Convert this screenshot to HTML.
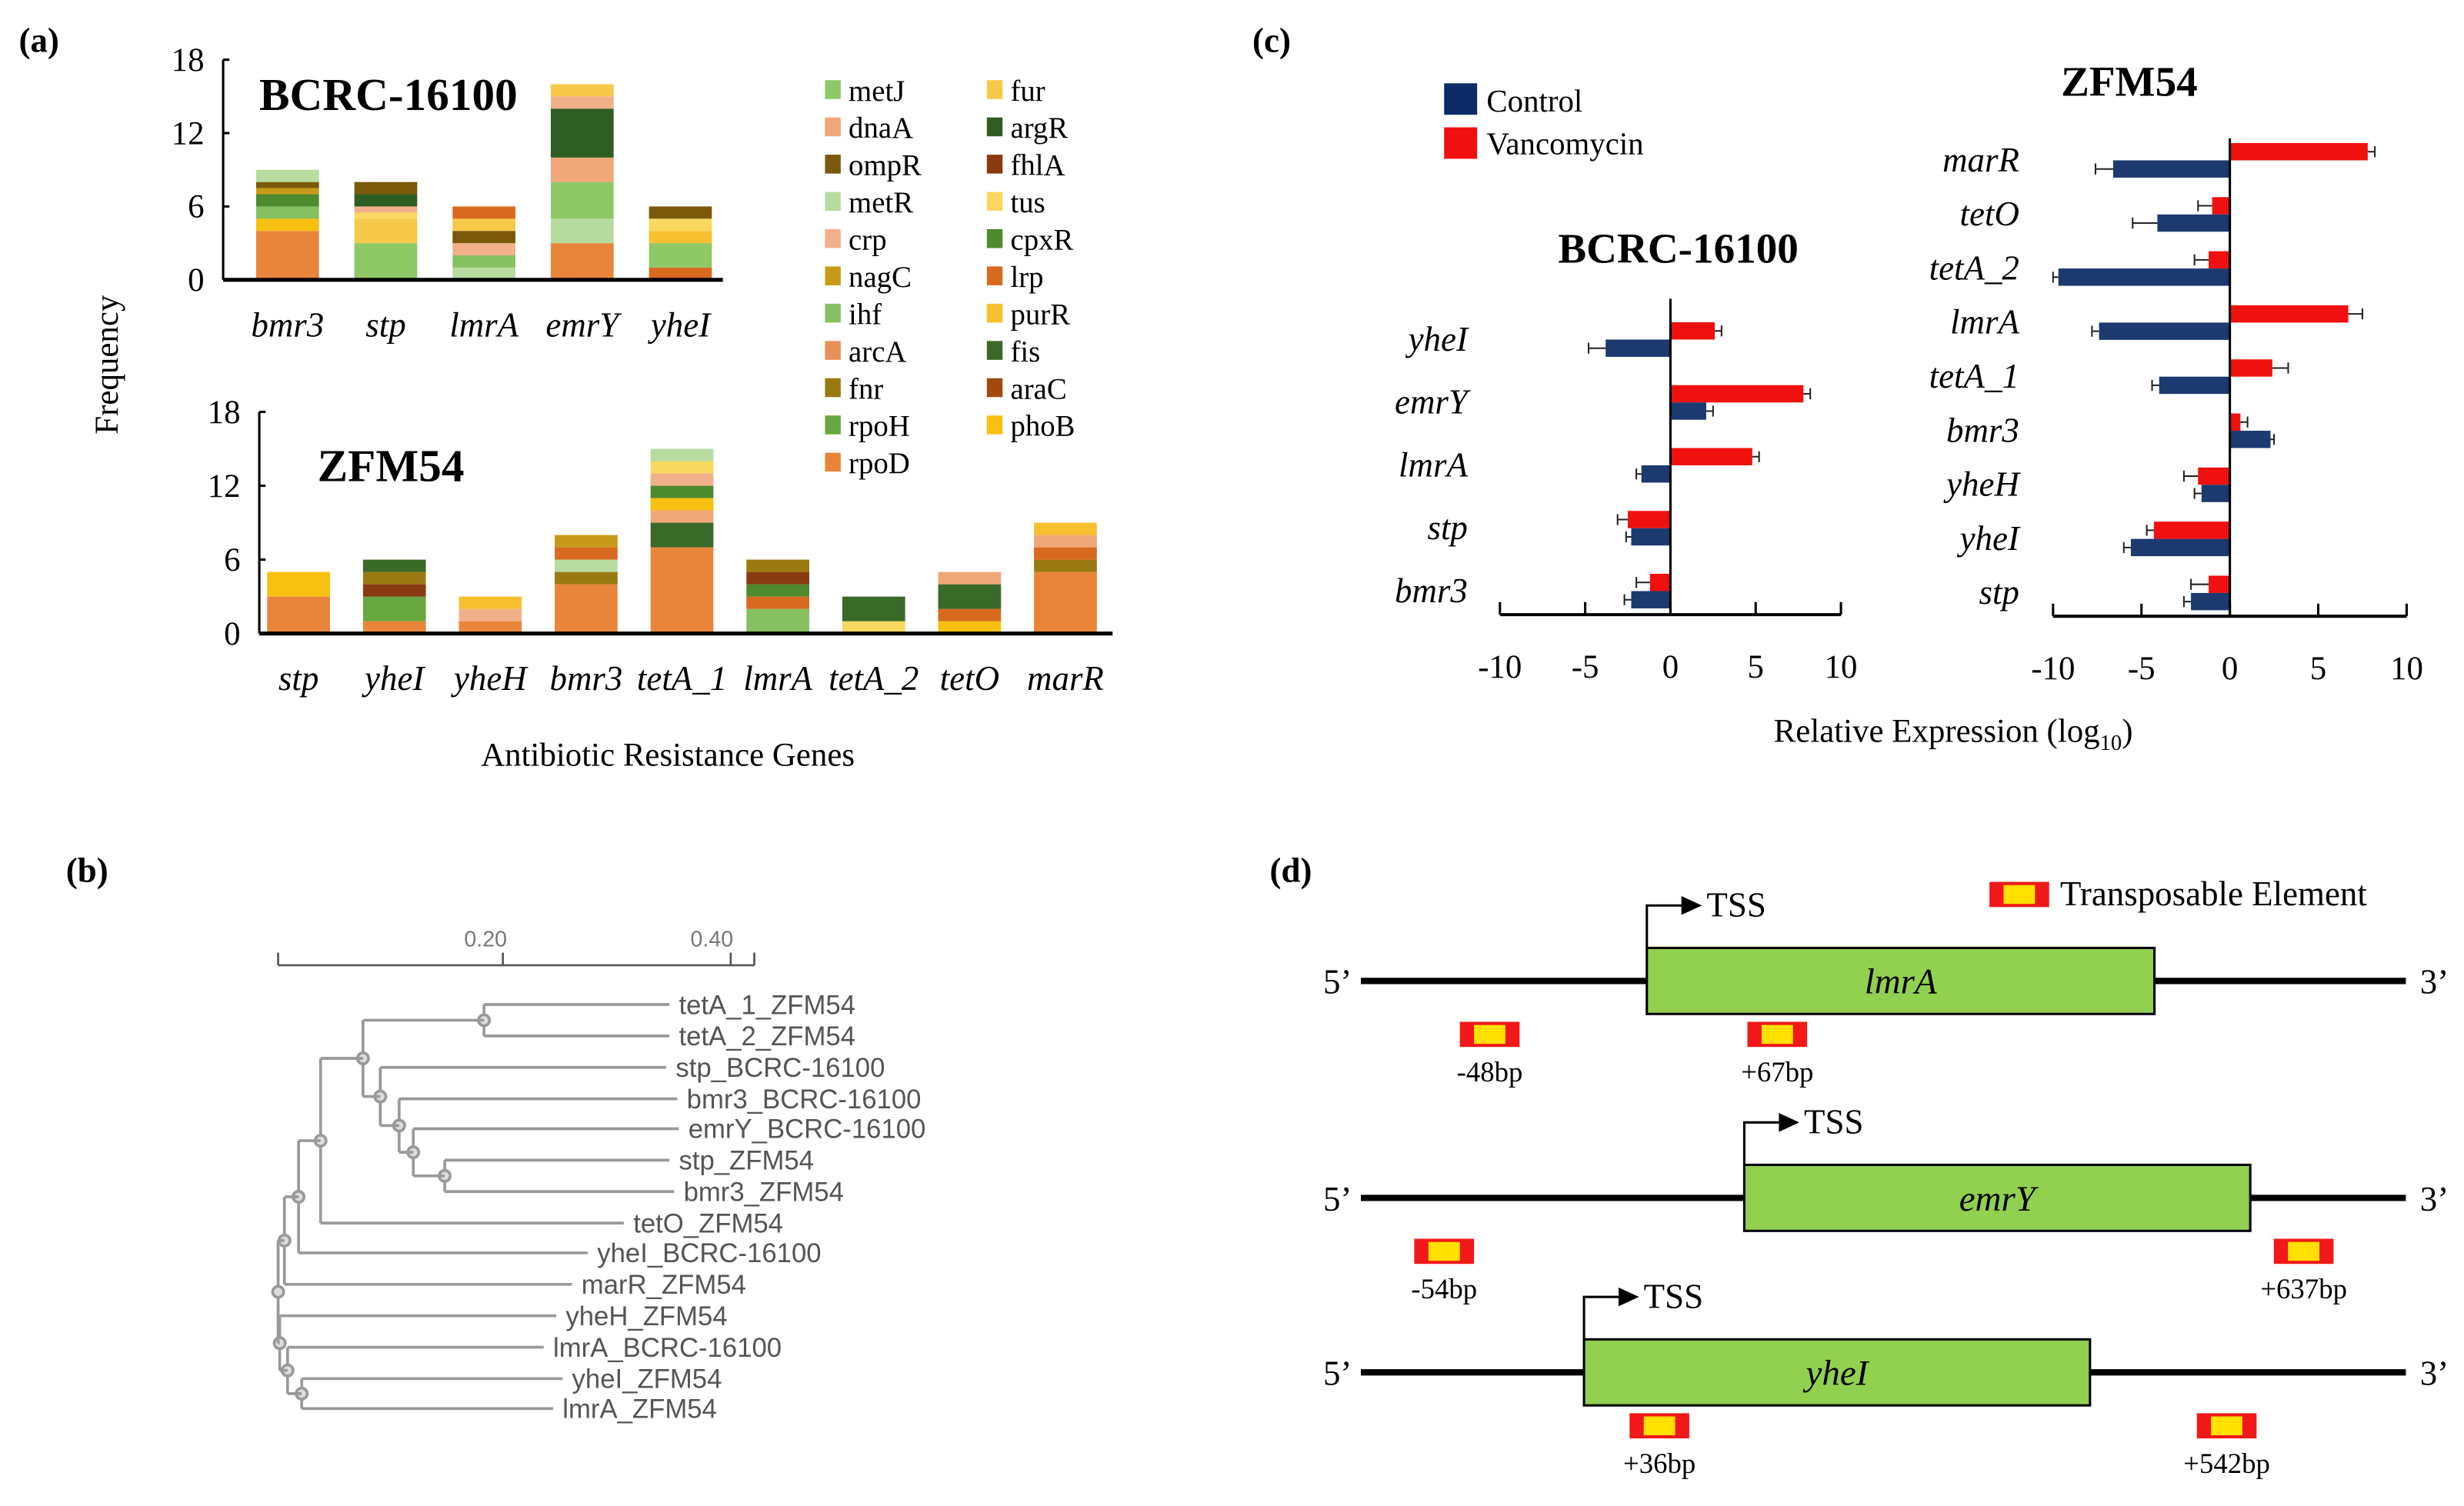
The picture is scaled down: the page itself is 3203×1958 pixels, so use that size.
<!DOCTYPE html>
<html><head><meta charset="utf-8"><style>
html,body{margin:0;padding:0;background:#fff}
svg{display:block}
text{font-family:"Liberation Serif",serif}
.sans{font-family:"Liberation Sans",sans-serif}
</style></head><body>
<svg id="fig" width="3203" height="1958" viewBox="0 0 1568 958" preserveAspectRatio="none" xmlns="http://www.w3.org/2000/svg">
<rect width="1568" height="958" fill="#fff"/>
<g id="pa"></g>
<g id="pb"></g>
<g id="pc"></g>
<g id="pd"></g>
</svg>
<script>
// ---------- Panel (a) data ----------
const regulators = ["metJ","dnaA","ompR","metR","crp","nagC","ihf","arcA","fnr","rpoH","rpoD","fur","argR","fhlA","tus","cpxR","lrp","purR","fis","araC","phoB"];
const regColors = {metJ:"#8fc866",dnaA:"#f0a878",ompR:"#7a5a0a",metR:"#b8dca0",crp:"#f2b08a",nagC:"#c89a1a",ihf:"#86c060",arcA:"#e8905a",fnr:"#9a7a10",rpoH:"#68a840",rpoD:"#e8853a",fur:"#f7c94a",argR:"#2e5e22",fhlA:"#8a3a10",tus:"#f9d860",cpxR:"#4e8a2e",lrp:"#d86a20",purR:"#f8c030",fis:"#3a6a28",araC:"#a04a10",phoB:"#f8c010"};
const bcrcGenes = ["bmr3","stp","lmrA","emrY","yheI"];
const bcrcStacks = [
 [["rpoD",4],["phoB",1],["ihf",1],["cpxR",1],["nagC",0.5],["ompR",0.5],["metR",1]],
 [["metJ",3],["fur",2],["tus",0.5],["crp",0.5],["argR",1],["ompR",1]],
 [["metR",1],["ihf",1],["crp",1],["ompR",1],["fur",1],["lrp",1]],
 [["rpoD",3],["metR",2],["metJ",3],["dnaA",2],["argR",4],["crp",1],["fur",1]],
 [["lrp",1],["metJ",2],["purR",1],["tus",1],["ompR",1]]
];
const zfmGenes = ["stp","yheI","yheH","bmr3","tetA_1","lmrA","tetA_2","tetO","marR"];
const zfmStacks = [
 [["rpoD",3],["phoB",2]],
 [["rpoD",1],["rpoH",2],["fhlA",1],["fnr",1],["fis",1]],
 [["rpoD",1],["crp",1],["purR",1]],
 [["rpoD",4],["fnr",1],["metR",1],["lrp",1],["nagC",1]],
 [["rpoD",7],["fis",2],["dnaA",1],["phoB",1],["cpxR",1],["crp",1],["tus",1],["metR",1]],
 [["ihf",2],["lrp",1],["cpxR",1],["fhlA",1],["fnr",1]],
 [["tus",1],["fis",2]],
 [["phoB",1],["lrp",1],["fis",2],["dnaA",1]],
 [["rpoD",5],["fnr",1],["lrp",1],["dnaA",1],["purR",1]]
];
const freqTicks = [0,6,12,18];

// ---------- Panel (c) data ----------
const cBcrcGenes = ["yheI","emrY","lmrA","stp","bmr3"];
const cBcrcVanco = [2.6,7.8,4.8,-2.5,-1.2];
const cBcrcControl = [-3.8,2.1,-1.7,-2.3,-2.3];
const cBcrcVancoErr = [0.4,0.4,0.4,0.6,0.8];
const cBcrcControlErr = [1.0,0.4,0.3,0.3,0.4];
const cZfmGenes = ["marR","tetO","tetA_2","lmrA","tetA_1","bmr3","yheH","yheI","stp"];
const cZfmVanco = [7.8,-1.0,-1.2,6.7,2.4,0.6,-1.8,-4.3,-1.2];
const cZfmControl = [-6.6,-4.1,-9.7,-7.4,-4.0,2.3,-1.6,-5.6,-2.2];
const cZfmVancoErr = [0.4,0.8,0.8,0.8,0.9,0.4,0.8,0.4,1.0];
const cZfmControlErr = [1.0,1.4,0.3,0.4,0.4,0.2,0.4,0.4,0.4];
const cTicks = [-10,-5,0,5,10];

const NS="http://www.w3.org/2000/svg";
function mk(parent,tag,attrs,txt){const e=document.createElementNS(NS,tag);for(const k in attrs)e.setAttribute(k,attrs[k]);if(txt!==undefined)e.textContent=txt;parent.appendChild(e);return e;}

// ===== Panel a =====
const pa=document.getElementById('pa');
let t;
t=mk(pa,'text',{x:12,y:33,'font-size':22,'font-weight':'bold'},'(a)');

t=mk(pa,'text',{x:0,y:0,'font-size':21,transform:'translate(75,232) rotate(-90)','text-anchor':'middle'},'Frequency');

t=mk(pa,'text',{x:425,y:487,'font-size':21,'text-anchor':'middle'},'Antibiotic Resistance Genes');


function stackChart(name,genes,stacks,ax){
  const g=mk(pa,'g',{});
  
  const yS=v=>ax.y0-(v/18)*(ax.y0-ax.y18);
  const xS=i=>ax.x0+ax.first+i*ax.step;
  stacks.forEach((st,i)=>{
    let acc=0;
    st.forEach(([reg,v])=>{
      const r=mk(g,'rect',{x:xS(i)-20,y:yS(acc+v),width:40,height:yS(acc)-yS(acc+v),fill:regColors[reg]});
      
      acc+=v;
    });
    const l=mk(g,'text',{x:xS(i),y:ax.y0+36,'font-size':22,'font-style':'italic','text-anchor':'middle'},genes[i]);
    
  });
  const ya=mk(g,'line',{x1:ax.x0,y1:ax.y18,x2:ax.x0,y2:ax.y0,stroke:'#000','stroke-width':1.5});
  
  const xa=mk(g,'line',{x1:ax.x0,y1:ax.y0,x2:ax.xEnd,y2:ax.y0,stroke:'#000','stroke-width':2.5});
  
  freqTicks.forEach(v=>{
    mk(g,'line',{x1:ax.x0,y1:yS(v),x2:ax.x0+4,y2:yS(v),stroke:'#000','stroke-width':1.5});
    const tl=mk(g,'text',{x:ax.x0-12,y:yS(v)+7,'font-size':21,'text-anchor':'end'},String(v));
    
  });
}
stackChart('bcrc-frequency-chart',bcrcGenes,bcrcStacks,{x0:142,y0:178,y18:38,first:41,step:62.5,xEnd:460});
stackChart('zfm-frequency-chart',zfmGenes,zfmStacks,{x0:165,y0:403,y18:262,first:25,step:61,xEnd:708});
t=mk(pa,'text',{x:165,y:70,'font-size':29,'font-weight':'bold'},'BCRC-16100');

t=mk(pa,'text',{x:202,y:306,'font-size':29,'font-weight':'bold'},'ZFM54');

// legend
const lg=mk(pa,'g',{});

regulators.forEach((r,i)=>{
  const col=i<11?0:1, row=i<11?i:i-11;
  const x=col?628:525, y=58+row*23.7;
  const e=mk(lg,'g',{});
  
  mk(e,'rect',{x:x,y:y-7,width:10,height:12,fill:regColors[r]});
  mk(e,'text',{x:x+15,y:y+6,'font-size':19},r);
});

// ===== Panel b tree =====
const pb=document.getElementById('pb');
t=mk(pb,'text',{x:42,y:561,'font-size':22,'font-weight':'bold'},'(b)');

const sb=mk(pb,'g',{stroke:'#555','stroke-width':1.3,fill:'none'});

mk(sb,'line',{x1:177,y1:614,x2:480,y2:614});
[177,320,465,480].forEach(x=>mk(sb,'line',{x1:x,y1:606,x2:x,y2:614}));
mk(pb,'text',{x:309,y:602,'font-size':14,fill:'#777','text-anchor':'middle',class:'sans'},'0.20');
mk(pb,'text',{x:453,y:602,'font-size':14,fill:'#777','text-anchor':'middle',class:'sans'},'0.40');
const leaves=[["tetA_1_ZFM54",432,639],["tetA_2_ZFM54",432,659],["stp_BCRC-16100",430,679],["bmr3_BCRC-16100",437,699],["emrY_BCRC-16100",438,718],["stp_ZFM54",432,738],["bmr3_ZFM54",435,758],["tetO_ZFM54",403,778],["yheI_BCRC-16100",380,797],["marR_ZFM54",370,817],["yheH_ZFM54",360,837],["lmrA_BCRC-16100",352,857],["yheI_ZFM54",364,877],["lmrA_ZFM54",358,896]];
const tg=mk(pb,'g',{stroke:'#999','stroke-width':1.8,fill:'none'});

function br(x,y1,x1,y2,x2){mk(tg,'line',{x1:x,y1:y1,x2:x,y2:y2});mk(tg,'line',{x1:x,y1:y1,x2:x1,y2:y1});mk(tg,'line',{x1:x,y1:y2,x2:x2,y2:y2});mk(tg,'circle',{cx:x,cy:(y1+y2)/2,r:3.5,fill:'#ddd'});return (y1+y2)/2;}
const L=i=>leaves[i][1]-6;
const n1=br(308,639,L(0),659,L(1));
const n5=br(283,738,L(5),758,L(6));
const n4=br(263,718,L(4),n5,283);
const n3=br(254,699,L(3),n4,263);
const n2=br(242,679,L(2),n3,254);
const n6=br(231,n1,308,n2,242);
const n7=br(204,n6,231,778,L(7));
const n8=br(190,n7,204,797,L(8));
const n12=br(192,877,L(12),896,L(13));
const n11=br(183,857,L(11),n12,192);
const n10=br(178,837,L(10),n11,183);
const n9=br(181,n8,190,817,L(9));
br(177,n9,181,n10,178);
leaves.forEach(([n,x,y])=>{
  const e=mk(pb,'text',{x:x,y:y+6,'font-size':17,fill:'#555',class:'sans'},n);
  
});

// ===== Panel c =====
const pc=document.getElementById('pc');
t=mk(pc,'text',{x:797,y:33,'font-size':22,'font-weight':'bold'},'(c)');

const cl=mk(pc,'g',{});

mk(cl,'rect',{x:919,y:53,width:21,height:20,fill:'#0c2a66'});
mk(cl,'text',{x:946,y:71,'font-size':20},'Control');
mk(cl,'rect',{x:919,y:81,width:21,height:20,fill:'#f01010'});
mk(cl,'text',{x:946,y:98,'font-size':20},'Vancomycin');
t=mk(pc,'text',{x:1355,y:61,'font-size':27,'font-weight':'bold','text-anchor':'middle'},'ZFM54');

t=mk(pc,'text',{x:1068,y:167,'font-size':27,'font-weight':'bold','text-anchor':'middle'},'BCRC-16100');

t=mk(pc,'text',{x:1243,y:472,'font-size':21,'text-anchor':'middle'},'');

t.appendChild(document.createTextNode('Relative Expression (log'));
mk(t,'tspan',{'font-size':14,dy:5},'10');
mk(t,'tspan',{dy:-5},')');

function hbar(name,genes,van,ctl,vErr,cErr,ax){
  const g=mk(pc,'g',{});
  
  const xS=v=>ax.zero+v*ax.k;
  genes.forEach((gn,i)=>{
    const yc=ax.yFirst+i*ax.step;
    [[van[i],vErr[i],yc-ax.h,'#f01010','vancomycin'],[ctl[i],cErr[i],yc,'#1c3a70','control']].forEach(([v,e,y,c,s])=>{
      const x0=Math.min(xS(0),xS(v)), w=Math.abs(xS(v)-xS(0));
      const r=mk(g,'rect',{x:x0,y:y,width:w,height:ax.h,fill:c});
      
      const sg=v>=0?1:-1, xe=xS(v+sg*e), xm=xS(v);
      mk(g,'line',{x1:xm,y1:y+ax.h/2,x2:xe,y2:y+ax.h/2,stroke:'#222','stroke-width':1});
      mk(g,'line',{x1:xe,y1:y+2,x2:xe,y2:y+ax.h-2,stroke:'#222','stroke-width':1});
    });
    const l=mk(g,'text',{x:ax.labelX,y:yc+7,'font-size':22,'font-style':'italic','text-anchor':'end'},gn);
    
  });
  mk(g,'line',{x1:xS(0),y1:ax.yTop,x2:xS(0),y2:ax.yAxis,stroke:'#000','stroke-width':1.5});
  const xa=mk(g,'line',{x1:xS(-10),y1:ax.yAxis,x2:xS(10),y2:ax.yAxis,stroke:'#000','stroke-width':2});
  
  cTicks.forEach(v=>{
    mk(g,'line',{x1:xS(v),y1:ax.yAxis-8,x2:xS(v),y2:ax.yAxis,stroke:'#000','stroke-width':1.5});
    const tl=mk(g,'text',{x:xS(v),y:ax.yAxis+40,'font-size':21,'text-anchor':'middle'},String(v));
    
  });
}
hbar('bcrc-expression-chart',cBcrcGenes,cBcrcVanco,cBcrcControl,cBcrcVancoErr,cBcrcControlErr,{zero:1063,k:10.85,yFirst:216,step:40,h:11,labelX:934,yTop:190,yAxis:391});
hbar('zfm-expression-chart',cZfmGenes,cZfmVanco,cZfmControl,cZfmVancoErr,cZfmControlErr,{zero:1419,k:11.25,yFirst:102,step:34.4,h:11,labelX:1285,yTop:88,yAxis:392});

// ===== Panel d =====
const pd=document.getElementById('pd');
t=mk(pd,'text',{x:808,y:561,'font-size':22,'font-weight':'bold'},'(d)');

function te(g,x,y){mk(g,'rect',{x:x,y:y,width:38,height:16,fill:'#f01818'});mk(g,'rect',{x:x+9,y:y+2,width:20,height:12,fill:'#ffe000'});}
const tl=mk(pd,'g',{});

te(tl,1266,561);
mk(tl,'text',{x:1311,y:576,'font-size':22},'Transposable Element');
const genesD=[
 {n:'lmrA',y:624,bx:1048,bw:323,tes:[[929,'-48bp'],[1112,'+67bp']]},
 {n:'emrY',y:762,bx:1110,bw:322,tes:[[900,'-54bp'],[1447,'+637bp']]},
 {n:'yheI',y:873,bx:1008,bw:322,tes:[[1037,'+36bp'],[1398,'+542bp']]}
];
genesD.forEach(d=>{
  const g=mk(pd,'g',{});
  
  mk(g,'line',{x1:866,y1:d.y,x2:1531,y2:d.y,stroke:'#000','stroke-width':4});
  mk(g,'text',{x:842,y:d.y+8,'font-size':22},'5’');
  mk(g,'text',{x:1540,y:d.y+8,'font-size':22},'3’');
  const b=mk(g,'rect',{x:d.bx,y:d.y-21,width:d.bw,height:42,fill:'#92d050',stroke:'#000','stroke-width':1.5});
  
  mk(g,'text',{x:d.bx+d.bw/2,y:d.y+8,'font-size':23,'font-style':'italic','text-anchor':'middle'},d.n);
  mk(g,'polyline',{points:`${d.bx},${d.y-21} ${d.bx},${d.y-48} ${d.bx+24},${d.y-48}`,fill:'none',stroke:'#000','stroke-width':1.5});
  mk(g,'polygon',{points:`${d.bx+22},${d.y-54} ${d.bx+35},${d.y-48} ${d.bx+22},${d.y-42}`,fill:'#000'});
  mk(g,'text',{x:d.bx+38,y:d.y-41,'font-size':22},'TSS');
  d.tes.forEach(([x,lab])=>{
    te(g,x,d.y+26);
    mk(g,'text',{x:x+19,y:d.y+64,'font-size':18,'text-anchor':'middle'},lab);
  });
});
</script>
</body></html>
